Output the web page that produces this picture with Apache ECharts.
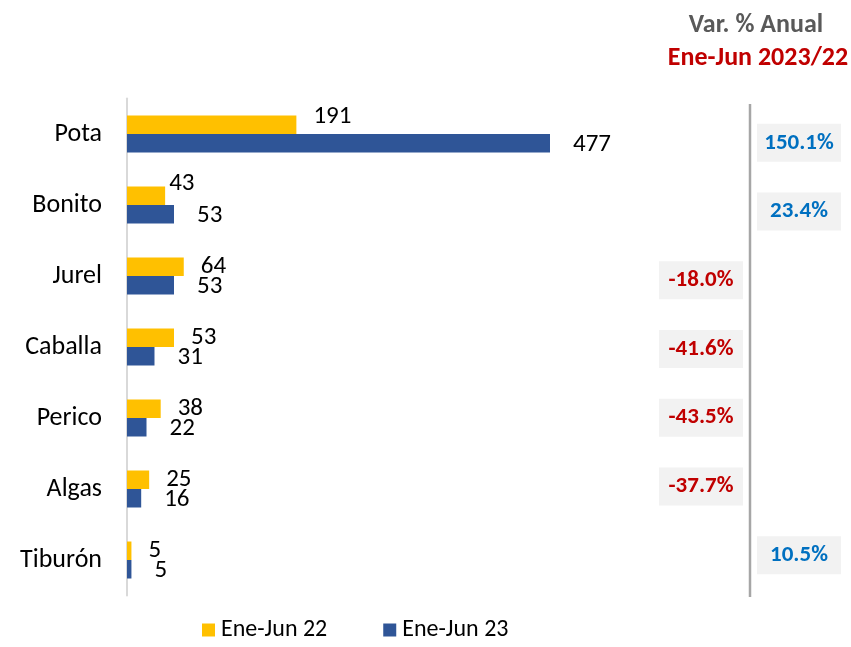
<!DOCTYPE html>
<html>
<head>
<meta charset="utf-8">
<script src="https://cdn.jsdelivr.net/npm/echarts@6/dist/echarts.min.js"></script>
<style>
  html, body { margin: 0; padding: 0; background: #fff; }
  #chart { width: 851px; height: 647px; }
</style>
</head>
<body>
<div id="chart"></div>
<script>
var categories = ['Pota', 'Bonito', 'Jurel', 'Caballa', 'Perico', 'Algas', 'Tiburón'];
var ene22 = [191, 43, 64, 53, 38, 25, 5];
var ene23 = [477, 53, 53, 31, 22, 16, 5];
var varAnual = [150.1, 23.4, -18.0, -41.6, -43.5, -37.7, 10.5];

var FONT = 'Carlito, Lato, sans-serif';
var chart = echarts.init(document.getElementById('chart'));

// etiquetas que Excel movio para que no se pisen
var shift22 = {0: [0, -8], 1: [-13, -12]};

var data22 = ene22.map(function (v, i) {
    var item = {value: v};
    if (shift22[i]) {
        item.label = {offset: shift22[i]};
    }
    return item;
});

// columna izquierda para negativos, derecha para positivos
var pctData = varAnual.map(function (v, i) {
    return [v < 0 ? 0.5 : 1.5, categories[i], v];
});

var option = {
    backgroundColor: '#fff',
    animation: false,
    title: [{
        text: 'Var. % Anual',
        left: 751, top: 7, textAlign: 'center',
        textStyle: {fontFamily: FONT, fontSize: 26, fontWeight: 'bold', color: '#595959'}
    }, {
        text: 'Ene-Jun 2023/22',
        left: 753, top: 40, textAlign: 'center',
        textStyle: {fontFamily: FONT, fontSize: 26, fontWeight: 'bold', color: '#C00000'}
    }],
    legend: {
        bottom: 0,
        left: 197,
        itemWidth: 13,
        itemHeight: 13,
        itemGap: 56,
        icon: 'rect',
        textStyle: {fontFamily: FONT, fontSize: 24, color: '#000', padding: [0, 0, 0, 1]},
        data: ['Ene-Jun 22', 'Ene-Jun 23']
    },
    grid: [
        {left: 127, top: 98.5, width: 443.4, height: 497, containLabel: false},
        {left: 652, top: 108.5, width: 196, height: 481, containLabel: false}
    ],
    xAxis: [
        {gridIndex: 0, type: 'value', min: 0, max: 500, show: false},
        {gridIndex: 1, type: 'value', min: 0, max: 2, show: false}
    ],
    yAxis: [{
        gridIndex: 0,
        type: 'category',
        inverse: true,
        data: categories,
        axisTick: {show: false},
        axisLine: {lineStyle: {color: '#D9D9D9', width: 2}},
        axisLabel: {fontFamily: FONT, fontSize: 26, color: '#000', margin: 25}
    }, {
        gridIndex: 1,
        type: 'category',
        inverse: true,
        data: categories,
        show: false
    }],
    graphic: [{
        type: 'line',
        shape: {x1: 750, y1: 104, x2: 750, y2: 597},
        style: {stroke: '#A6A6A6', lineWidth: 2.5}
    }],
    series: [{
        name: 'Ene-Jun 22',
        type: 'bar',
        xAxisIndex: 0, yAxisIndex: 0,
        barWidth: 18.5,
        barGap: '0%',
        itemStyle: {color: '#FFC000'},
        label: {show: true, position: 'right', distance: 17, fontFamily: FONT, fontSize: 25, color: '#000'},
        data: data22
    }, {
        name: 'Ene-Jun 23',
        type: 'bar',
        xAxisIndex: 0, yAxisIndex: 0,
        barWidth: 18.5,
        barGap: '0%',
        itemStyle: {color: '#2F5597'},
        label: {show: true, position: 'right', distance: 23, offset: [0, 1], fontFamily: FONT, fontSize: 25, color: '#000'},
        data: ene23
    }, {
        name: 'Var',
        type: 'scatter',
        xAxisIndex: 1, yAxisIndex: 1,
        symbolSize: 0,
        silent: true,
        itemStyle: {opacity: 1},
        label: {
            show: true,
            position: 'inside',
            width: 64,
            align: 'center',
            padding: [7, 10],
            lineHeight: 24,
            backgroundColor: '#F2F2F2',
            textBorderWidth: 0,
            opacity: 1,
            fontFamily: FONT,
            fontSize: 23,
            fontWeight: 'bold',
            formatter: function (p) {
                return '{' + (p.value[2] < 0 ? 'neg' : 'pos') + '|' + p.value[2].toFixed(1) + '%}';
            },
            rich: {
                pos: {color: '#0070C0', fontFamily: FONT, fontSize: 23, fontWeight: 'bold', textBorderWidth: 0},
                neg: {color: '#C00000', fontFamily: FONT, fontSize: 23, fontWeight: 'bold', textBorderWidth: 0}
            }
        },
        data: pctData
    }]
};

chart.setOption(option);
</script>
</body>
</html>
